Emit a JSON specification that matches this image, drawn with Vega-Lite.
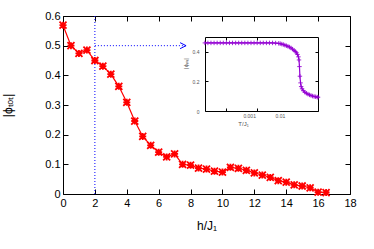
{
  "$schema": "https://vega.github.io/schema/vega-lite/v6.json",
  "autosize": {"type": "none"},
  "padding": {"left": 63, "top": 16, "right": 24, "bottom": 55},
  "width": 287,
  "height": 178,
  "background": "white",
  "config": {
    "view": {"stroke": null},
    "axis": {
      "grid": false,
      "domainColor": "black",
      "tickColor": "black",
      "labelColor": "black",
      "titleColor": "black",
      "labelFont": "Liberation Sans",
      "titleFont": "Liberation Sans",
      "labelFontSize": 11,
      "titleFontSize": 11,
      "titleFontWeight": "normal"
    }
  },
  "datasets": {
    "main": [
      {"h": 0, "phi": 0.569}, {"h": 0.5, "phi": 0.5}, {"h": 1, "phi": 0.474}, {"h": 1.5, "phi": 0.485},
      {"h": 2, "phi": 0.45}, {"h": 2.5, "phi": 0.431}, {"h": 3, "phi": 0.404}, {"h": 3.5, "phi": 0.363},
      {"h": 4, "phi": 0.309}, {"h": 4.5, "phi": 0.246}, {"h": 5, "phi": 0.194}, {"h": 5.5, "phi": 0.164},
      {"h": 6, "phi": 0.141}, {"h": 6.5, "phi": 0.125}, {"h": 7, "phi": 0.135}, {"h": 7.5, "phi": 0.1},
      {"h": 8, "phi": 0.097}, {"h": 8.5, "phi": 0.0875}, {"h": 9, "phi": 0.084}, {"h": 9.5, "phi": 0.077},
      {"h": 10, "phi": 0.074}, {"h": 10.5, "phi": 0.09}, {"h": 11, "phi": 0.0865}, {"h": 11.5, "phi": 0.08},
      {"h": 12, "phi": 0.071}, {"h": 12.5, "phi": 0.064}, {"h": 13, "phi": 0.056}, {"h": 13.5, "phi": 0.045},
      {"h": 14, "phi": 0.04}, {"h": 14.5, "phi": 0.031}, {"h": 15, "phi": 0.027}, {"h": 15.5, "phi": 0.021},
      {"h": 16, "phi": 0.006}, {"h": 16.5, "phi": 0.005}
    ],
    "inset": [
      {"T": 0.00002, "phi": 0.46}, {"T": 0.0000251, "phi": 0.46}, {"T": 0.0000316, "phi": 0.46}, {"T": 0.0000398, "phi": 0.46},
      {"T": 0.0000501, "phi": 0.46}, {"T": 0.0000631, "phi": 0.46}, {"T": 0.0000794, "phi": 0.46}, {"T": 0.0001, "phi": 0.46},
      {"T": 0.000126, "phi": 0.46}, {"T": 0.000158, "phi": 0.46}, {"T": 0.0002, "phi": 0.46}, {"T": 0.000251, "phi": 0.46},
      {"T": 0.000316, "phi": 0.46}, {"T": 0.000398, "phi": 0.46}, {"T": 0.000501, "phi": 0.46}, {"T": 0.000631, "phi": 0.46},
      {"T": 0.000794, "phi": 0.46}, {"T": 0.001, "phi": 0.46}, {"T": 0.00126, "phi": 0.46}, {"T": 0.00158, "phi": 0.46},
      {"T": 0.002, "phi": 0.46}, {"T": 0.00251, "phi": 0.46}, {"T": 0.00316, "phi": 0.46}, {"T": 0.00398, "phi": 0.459},
      {"T": 0.00501, "phi": 0.457}, {"T": 0.00562, "phi": 0.455}, {"T": 0.00631, "phi": 0.452}, {"T": 0.00708, "phi": 0.449},
      {"T": 0.00794, "phi": 0.445}, {"T": 0.00891, "phi": 0.441}, {"T": 0.01, "phi": 0.437}, {"T": 0.0112, "phi": 0.432},
      {"T": 0.0126, "phi": 0.426}, {"T": 0.0141, "phi": 0.418}, {"T": 0.0158, "phi": 0.41}, {"T": 0.0174, "phi": 0.402},
      {"T": 0.0191, "phi": 0.393}, {"T": 0.0204, "phi": 0.382}, {"T": 0.0219, "phi": 0.366}, {"T": 0.0229, "phi": 0.345},
      {"T": 0.0237, "phi": 0.3}, {"T": 0.0245, "phi": 0.235}, {"T": 0.0257, "phi": 0.19}, {"T": 0.0269, "phi": 0.165},
      {"T": 0.0288, "phi": 0.15}, {"T": 0.0316, "phi": 0.137}, {"T": 0.0355, "phi": 0.127}, {"T": 0.0398, "phi": 0.12},
      {"T": 0.0447, "phi": 0.114}, {"T": 0.0501, "phi": 0.109}, {"T": 0.0562, "phi": 0.105}, {"T": 0.0631, "phi": 0.101},
      {"T": 0.0708, "phi": 0.098}, {"T": 0.0794, "phi": 0.096}, {"T": 0.0891, "phi": 0.094}, {"T": 0.095, "phi": 0.093}
    ],
    "vguide": [{"h": 2, "phi": 0, "phi2": 0.6}],
    "hguide": [{"h": 2, "h2": 7.72, "phi": 0.5}],
    "arrow": [{"h": 7.72, "phi": 0.5}]
  },
  "layer": [
    {
      "layer": [
        {
          "encoding": {
            "x": {
              "field": "h", "type": "quantitative",
              "scale": {"domain": [0, 18], "nice": false, "zero": false},
              "axis": {"orient": "bottom", "title": "h/J₁", "titleFontSize": 12, "values": [0, 2, 4, 6, 8, 10, 12, 14, 16, 18], "tickSize": -5, "labelPadding": 8, "titleY": 26, "labelFlush": false, "labelOverlap": false}
            },
            "y": {
              "field": "phi", "type": "quantitative",
              "scale": {"domain": [0, 0.6], "nice": false},
              "axis": {"orient": "left", "title": "|ϕₜₒₜ|", "titleFontSize": 12, "values": [0, 0.1, 0.2, 0.3, 0.4, 0.5, 0.6], "format": "~g", "tickSize": -5, "labelPadding": 8, "titleX": -49, "labelFlush": false, "labelOverlap": false}
            }
          },
          "layer": [
            {
              "data": {"name": "vguide"},
              "mark": {"type": "rule", "color": "#0000ff", "strokeDash": [1, 2], "strokeWidth": 1},
              "encoding": {"y2": {"field": "phi2"}}
            },
            {
              "data": {"name": "hguide"},
              "mark": {"type": "rule", "color": "#0000ff", "strokeDash": [1, 2], "strokeWidth": 1},
              "encoding": {"x2": {"field": "h2"}}
            },
            {
              "data": {"name": "arrow"},
              "mark": {"type": "point", "shape": "M-2,-1L0,0L-2,1", "filled": false, "size": 36, "color": "#0000ff", "strokeWidth": 1, "opacity": 1},
              "encoding": {}
            },
            {
              "data": {"name": "main"},
              "mark": {
                "type": "line", "color": "#ff0000", "strokeWidth": 1.2,
                "point": {"shape": "M-1,0L1,0M0,-1L0,1M-1,-1L1,1M-1,1L1,-1", "filled": false, "size": 49, "color": "#ff0000", "strokeWidth": 1.8, "opacity": 1}
              },
              "encoding": {}
            }
          ]
        },
        {
          "data": {"name": "main"},
          "mark": {"type": "line", "opacity": 0},
          "encoding": {
            "x": {"field": "h", "type": "quantitative",
              "axis": {"orient": "top", "title": null, "labels": false, "values": [0, 2, 4, 6, 8, 10, 12, 14, 16, 18], "tickSize": -5}},
            "y": {"field": "phi", "type": "quantitative",
              "axis": {"orient": "right", "title": null, "labels": false, "values": [0, 0.1, 0.2, 0.3, 0.4, 0.5, 0.6], "tickSize": -5}}
          }
        }
      ],
      "resolve": {"axis": {"x": "independent", "y": "independent"}}
    },
    {
      "data": {"name": "inset"},
      "layer": [
        {
          "mark": {"type": "line", "color": "#9400d3", "strokeWidth": 1.2},
          "encoding": {
            "x": {
              "field": "T", "type": "quantitative",
              "scale": {"type": "log", "domain": [0.0000202, 0.0948], "nice": false, "range": [142, 255]},
              "axis": {"orient": "bottom", "offset": -83, "title": "T/J₁", "titleFontSize": 6, "titleColor": "#555", "titleX": 180, "titleY": 9,
                "values": [0.0001, 0.001, 0.01], "format": "~g", "labelExpr": "datum.value < 0.0005 ? '' : datum.label",
                "labelFontSize": 5, "labelColor": "#555", "labelOffset": -8, "labelPadding": 5, "tickSize": -3,
                "tickOpacity": {"condition": {"test": "datum.value > 0.005", "value": 0}, "value": 1}, "labelFlush": false, "labelOverlap": false}
            },
            "y": {
              "field": "phi", "type": "quantitative",
              "scale": {"domain": [0, 0.5], "nice": false, "range": [95, 21]},
              "axis": {"orient": "left", "offset": -142, "title": "|ϕₜₒₜ|", "titleFontSize": 6, "titleColor": "#555", "titleX": -17, "titleY": 47,
                "values": [0, 0.2, 0.4], "format": "~g", "labelFontSize": 5, "labelColor": "#555", "labelPadding": 9, "tickSize": -3, "labelFlush": false, "labelOverlap": false}
            }
          }
        },
        {
          "mark": {"type": "point", "shape": "M-1,0L1,0M0,-1L0,1", "filled": false, "size": 20, "color": "#9400d3", "strokeWidth": 1, "opacity": 0.85},
          "encoding": {
            "x": {"field": "T", "type": "quantitative",
              "axis": {"orient": "top", "offset": -21, "title": null, "labels": false, "values": [0.0001, 0.001], "tickSize": -3}},
            "y": {"field": "phi", "type": "quantitative",
              "axis": {"orient": "right", "offset": -32, "title": null, "labels": false, "values": [0, 0.2, 0.4], "tickSize": -3}}
          }
        }
      ],
      "resolve": {"axis": {"x": "independent", "y": "independent"}}
    }
  ],
  "resolve": {"scale": {"x": "independent", "y": "independent"}}
}
